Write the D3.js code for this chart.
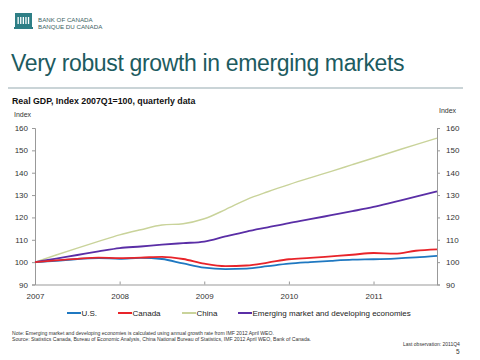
<!DOCTYPE html>
<html><head><meta charset="utf-8">
<script src="https://cdn.jsdelivr.net/npm/d3@7"></script>
<style>
body{margin:0;background:#fff;}
svg{display:block;font-family:"Liberation Sans",Arial,sans-serif;}
</style></head>
<body><svg id="c" width="480" height="360"></svg>
<script>
const quarters = ["2007Q1","2007Q2","2007Q3","2007Q4","2008Q1","2008Q2","2008Q3","2008Q4","2009Q1","2009Q2","2009Q3","2009Q4","2010Q1","2010Q2","2010Q3","2010Q4","2011Q1","2011Q2","2011Q3","2011Q4"];
const us       = [100,100.6,101.4,101.8,101.5,101.9,101.4,99.4,97.5,96.9,97.1,98.2,99.3,100,100.6,101.1,101.3,101.6,102.1,102.8];
const canada   = [100,100.8,101.5,102,101.8,102,102.4,101.4,99.3,98.2,98.5,99.8,101.3,101.9,102.6,103.3,104.1,103.8,105.1,105.7];
const china    = [100,103.2,106.3,109.3,112.2,114.5,116.6,117.2,119.4,123.5,128,131.5,134.7,137.7,140.6,143.6,146.6,149.6,152.6,155.5];
const emerging = [100,101.6,103.2,104.8,106.3,107,107.8,108.5,109.2,111.5,113.7,115.6,117.5,119.2,121,122.8,124.7,127,129.3,131.7];
const yTicks = [90,100,110,120,130,140,150,160];
const yearLabels = ["2007","2008","2009","2010","2011"];
const seriesNames = ["U.S.","Canada","China","Emerging market and developing economies"];
const seriesColors = ["#1f78c1","#e8242a","#c9d39a","#5a2ea6"];

const svg = d3.select("#c");
const x = d3.scaleLinear().domain([0, 19]).range([35, 437]);
const y = d3.scaleLinear().domain([90, 160]).range([284.5, 128]);

// Logo
const logo = svg.append("g");
logo.append("rect").attr("x",15).attr("y",13).attr("width",17).attr("height",14).attr("fill","#2e7f86");
for (let i=0;i<5;i++) logo.append("rect").attr("x",17.5+i*2.6).attr("y",17).attr("width",1.3).attr("height",7).attr("fill","#fff");
logo.append("rect").attr("x",14).attr("y",27).attr("width",19).attr("height",2).attr("fill","#2e7f86");
logo.append("text").attr("x",38).attr("y",22).attr("font-size",6.2).attr("fill","#3b5f63").text("BANK OF CANADA");
logo.append("text").attr("x",38).attr("y",29).attr("font-size",6.2).attr("fill","#3b5f63").text("BANQUE DU CANADA");

// Title
svg.append("text").attr("x",11).attr("y",71).attr("font-size",23).attr("fill","#1d5b5f")
  .attr("letter-spacing",-0.35).text("Very robust growth in emerging markets");
svg.append("line").attr("x1",8).attr("x2",463).attr("y1",88).attr("y2",88).attr("stroke","#b9c6ca").attr("stroke-width",1.5);
svg.append("text").attr("x",12).attr("y",104).attr("font-size",8.8).attr("font-weight","bold").attr("fill","#111")
  .text("Real GDP, Index 2007Q1=100, quarterly data");

// Axes
const axisColor = "#999";
const gl = svg.append("g").attr("transform","translate(35,0)").call(d3.axisLeft(y).tickValues(yTicks).tickSize(3).tickPadding(4));
const gr = svg.append("g").attr("transform","translate(437,0)").call(d3.axisRight(y).tickValues(yTicks).tickSize(3).tickPadding(6));
const gb = svg.append("g").attr("transform","translate(0,284.5)").call(d3.axisBottom(x).tickValues([0,4,8,12,16]).tickFormat((d,i)=>yearLabels[i]).tickSizeInner(-3).tickSizeOuter(0).tickPadding(9));
[gl,gr,gb].forEach(g=>{
  g.select(".domain").attr("stroke",axisColor);
  g.selectAll(".tick line").attr("stroke",axisColor);
  g.selectAll("text").attr("font-size",8).attr("fill","#333").attr("font-family","Liberation Sans, Arial, sans-serif");
});
gb.selectAll(".tick text").attr("dy","0.71em");
svg.append("text").attr("x",14).attr("y",117).attr("font-size",7).attr("fill","#333").text("Index");
svg.append("text").attr("x",439).attr("y",113).attr("font-size",7).attr("fill","#333").text("Index");

// Lines
const data = [us, canada, china, emerging];
const line = d3.line().x((d,i)=>x(i)).y(d=>y(d)).curve(d3.curveMonotoneX);
const drawOrder = [2,3,0,1];
drawOrder.forEach(k=>{
  svg.append("path").datum(data[k]).attr("d",line).attr("fill","none")
    .attr("stroke",seriesColors[k]).attr("stroke-width",k===2?1.4:1.8);
});

// Legend
const legX = [67,118,182,238];
seriesNames.forEach((n,i)=>{
  svg.append("line").attr("x1",legX[i]).attr("x2",legX[i]+14).attr("y1",313).attr("y2",313)
    .attr("stroke",seriesColors[i]).attr("stroke-width",2);
  svg.append("text").attr("x",legX[i]+14.5).attr("y",316).attr("font-size",8).attr("fill","#222").text(n);
});

// Notes
svg.append("text").attr("x",12).attr("y",335).attr("font-size",5.1).attr("fill","#333")
  .text("Note: Emerging market and developing economies is calculated using annual growth rate from IMF 2012 April WEO.");
svg.append("text").attr("x",12).attr("y",341).attr("font-size",5.1).attr("fill","#333")
  .text("Source: Statistics Canada, Bureau of Economic Analysis, China National Bureau of Statistics, IMF 2012 April WEO, Bank of Canada.");
svg.append("text").attr("x",403).attr("y",346).attr("font-size",5).attr("fill","#333").text("Last observation: 2011Q4");
svg.append("text").attr("x",456).attr("y",354).attr("font-size",6.5).attr("fill","#333").text("5");
</script></body></html>
